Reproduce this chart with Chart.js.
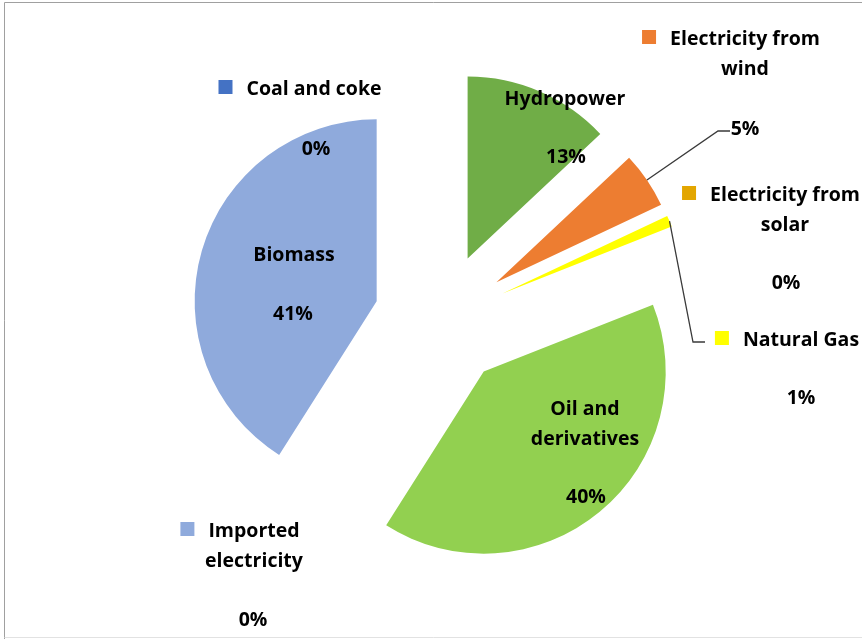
<!DOCTYPE html>
<html>
<head>
<meta charset="utf-8">
<script src="https://cdn.jsdelivr.net/npm/chart.js@4"></script>
<style>
  html, body { margin: 0; padding: 0; background: #fff; }
  #wrap { width: 862px; height: 639px; position: relative; }
</style>
</head>
<body>
<div id="wrap"><canvas id="energia"></canvas></div>
<script>
// sources of energy, clockwise from 12 o'clock
const categories = ['Coal and coke', 'Hydropower', 'Electricity from wind', 'Electricity from solar',
    'Natural Gas', 'Oil and derivatives', 'Imported electricity', 'Biomass'];
const shares = [0, 13, 5, 0, 1, 40, 0, 41];
const colores = ['#4472C4', '#70AD47', '#ED7D31', '#E3A600', '#FFFF00', '#92D050', '#8FAADC', '#8FAADC'];

// how the label text is split in lines
const nameLines = [
    ['Coal and coke'],
    ['Hydropower'],
    ['Electricity from', 'wind'],
    ['Electricity from', 'solar'],
    ['Natural Gas'],
    ['Oil and', 'derivatives'],
    ['Imported', 'electricity'],
    ['Biomass']
];

// label layout: centre of first name line, centre of the % text, legend key shown or not
const labelPos = [
    { x: 314, y: 87, px: 316, py: 147, key: true },
    { x: 565, y: 97, px: 566, py: 155, key: false },
    { x: 745, y: 37, px: 745, py: 127, key: true, leader: [718, 131, 730, 131] },
    { x: 785, y: 193, px: 786, py: 281, key: true },
    { x: 801, y: 338, px: 801, py: 396, key: true, leader: [693, 342, 705, 342] },
    { x: 585, y: 407, px: 586, py: 495, key: false },
    { x: 254, y: 529, px: 253, py: 618, key: true },
    { x: 294, y: 253, px: 293, py: 312, key: false }
];

const explode = 67;
const lineH = 30;
const textDy = 2;
const font = 'bold 19.5px "Open Sans", Lato, sans-serif';

function sliceShift(arc) {
    const mid = (arc.startAngle + arc.endAngle) / 2;
    return { dx: Math.cos(mid) * explode, dy: Math.sin(mid) * explode, mid: mid };
}

// pull every slice out from the centre
const explodePlugin = {
    id: 'explode',
    beforeDatasetDraw(chart, args) {
        const ctx = chart.ctx;
        args.meta.data.forEach(arc => {
            const s = sliceShift(arc);
            ctx.save();
            ctx.translate(s.dx, s.dy);
            arc.draw(ctx);
            ctx.restore();
        });
        return false;
    }
};

const frame = {
    id: 'frame',
    beforeDraw(chart) {
        const ctx = chart.ctx;
        ctx.save();
        ctx.lineWidth = 1;
        ctx.strokeStyle = '#a0a0a0';
        ctx.beginPath();
        ctx.moveTo(862, 2.5);
        ctx.lineTo(4.5, 2.5);
        ctx.lineTo(4.5, 639);
        ctx.stroke();
        ctx.strokeStyle = '#e2e2e2';
        ctx.beginPath();
        ctx.moveTo(4.5, 637.5);
        ctx.lineTo(862, 637.5);
        ctx.stroke();
        ctx.restore();
    }
};

const etiquetas = {
    id: 'etiquetas',
    afterDraw(chart) {
        const ctx = chart.ctx;
        const arcs = chart.getDatasetMeta(0).data;
        ctx.save();
        ctx.font = font;
        ctx.fillStyle = '#000';
        ctx.textAlign = 'center';
        ctx.textBaseline = 'middle';

        labelPos.forEach((p, i) => {
            const lines = nameLines[i];
            lines.forEach((t, j) => ctx.fillText(t, p.x, p.y + textDy + j * lineH));
            ctx.fillText(shares[i] + '%', p.px, p.py + textDy);

            if (p.key) {
                const w = ctx.measureText(lines[0]).width;
                const left = p.x - w / 2;
                ctx.fillStyle = colores[i];
                ctx.fillRect(left - 28, p.y - 7, 14, 14);
                ctx.fillStyle = '#000';
            }

            if (p.leader) {
                const arc = arcs[i];
                const s = sliceShift(arc);
                const sx = arc.x + s.dx + Math.cos(s.mid) * arc.outerRadius;
                const sy = arc.y + s.dy + Math.sin(s.mid) * arc.outerRadius;
                ctx.strokeStyle = '#3a3a3a';
                ctx.lineWidth = 1.3;
                ctx.beginPath();
                ctx.moveTo(sx, sy);
                ctx.lineTo(p.leader[0], p.leader[1]);
                ctx.lineTo(p.leader[2], p.leader[3]);
                ctx.stroke();
            }
        });
        ctx.restore();
    }
};

new Chart(document.getElementById('energia'), {
    type: 'pie',
    data: {
        labels: categories,
        datasets: [{
            data: shares,
            backgroundColor: colores,
            borderWidth: 0
        }]
    },
    options: {
        responsive: true,
        maintainAspectRatio: false,
        animation: false,
        events: [],
        radius: 182,
        layout: {
            padding: { left: 20, right: 0, top: 1, bottom: 0 }
        },
        plugins: {
            legend: { display: false },
            tooltip: { enabled: false }
        }
    },
    plugins: [frame, explodePlugin, etiquetas]
});
</script>
</body>
</html>
